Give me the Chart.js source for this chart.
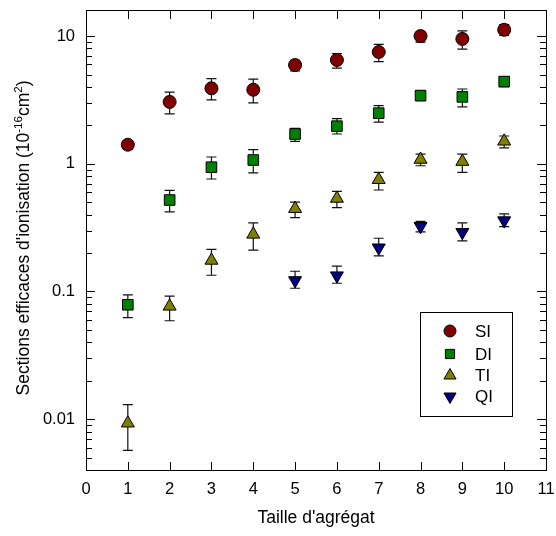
<!DOCTYPE html>
<html>
<head>
<meta charset="utf-8">
<script src="https://cdn.jsdelivr.net/npm/chart.js@4"></script>
<style>
  html, body { margin: 0; padding: 0; background: #fff; }
  #wrap { width: 556px; height: 536px; }
</style>
</head>
<body>
<div id="wrap"><canvas id="ionChart" width="556" height="536"></canvas></div>
<script>
// cluster sizes (x)
var sizes = [1, 2, 3, 4, 5, 6, 7, 8, 9, 10];
var xTickLabels = [0, 1, 2, 3, 4, 5, 6, 7, 8, 9, 10, 11];
var yTickLabels = [0.01, 0.1, 1, 10];

// single ionisation
var siVal = [1.41, 3.05, 3.9, 3.8, 5.93, 6.5, 7.5, 10.0, 9.5, 11.2];
var siHi  = [1.52, 3.64, 4.64, 4.6, 6.45, 7.3, 8.6, 10.8, 11.0, 12.3];
var siLo  = [1.30, 2.46, 3.16, 3.0, 5.33, 5.6, 6.3, 8.95, 7.9, 10.1];
// double ionisation
var diVal = [0.0787, 0.52, 0.94, 1.07, 1.71, 1.97, 2.49, 3.42, 3.34, 4.4];
var diHi  = [0.094, 0.62, 1.13, 1.29, 1.89, 2.26, 2.85, 3.7, 3.85, 4.76];
var diLo  = [0.0625, 0.42, 0.76, 0.85, 1.5, 1.71, 2.12, 3.12, 2.79, 4.02];
// triple ionisation
var tiVal = [0.0093, 0.0765, 0.175, 0.28, 0.445, 0.535, 0.75, 1.08, 1.04, 1.5];
var tiHi  = [0.013, 0.092, 0.214, 0.344, 0.5, 0.607, 0.855, 1.19, 1.19, 1.65];
var tiLo  = [0.0057, 0.059, 0.134, 0.211, 0.379, 0.453, 0.623, 0.965, 0.855, 1.33];
// quadruple ionisation (measured from size 5)
var qiVal = [null, null, null, null, 0.122, 0.133, 0.22, 0.324, 0.291, 0.359];
var qiHi  = [null, null, null, null, 0.144, 0.158, 0.261, 0.354, 0.344, 0.405];
var qiLo  = [null, null, null, null, 0.106, 0.116, 0.19, 0.293, 0.249, 0.322];

var FONT = "Liberation Sans, Arial, Helvetica, sans-serif";

function points(vals) {
	var out = [];
	for (var i = 0; i < sizes.length; i++) {
		if (vals[i] != null) out.push({x: sizes[i], y: vals[i]});
	}
	return out;
}
function compact(arr) { return arr.filter(function(v){ return v != null; }); }

function series(label, vals, hi, lo, color, style, radius, rot) {
	return {
		label: label,
		data: points(vals),
		errHi: compact(hi),
		errLo: compact(lo),
		showLine: false,
		backgroundColor: color,
		borderColor: '#000',
		borderWidth: 1,
		pointStyle: style,
		pointRadius: radius,
		pointHoverRadius: radius,
		pointRotation: rot || 0
	};
}

var datasets = [
	series('SI', siVal, siHi, siLo, '#800000', 'circle', 6.5),
	series('DI', diVal, diHi, diLo, '#008000', 'rect', 7.5),
	series('TI', tiVal, tiHi, tiLo, '#808000', 'triangle', 7.5),
	series('QI', qiVal, qiHi, qiLo, '#000080', 'triangle', 7.5, 180)
];

// error bars, drawn under the markers
var errorBars = {
	id: 'errorBars',
	beforeDatasetsDraw: function(chart) {
		var ctx = chart.ctx, xs = chart.scales.x, ys = chart.scales.y;
		ctx.save();
		ctx.strokeStyle = '#111';
		ctx.lineWidth = 1.2;
		chart.data.datasets.forEach(function(ds) {
			ds.data.forEach(function(p, i) {
				var px = xs.getPixelForValue(p.x);
				var top = ys.getPixelForValue(ds.errHi[i]);
				var bot = ys.getPixelForValue(ds.errLo[i]);
				ctx.beginPath();
				ctx.moveTo(px, top); ctx.lineTo(px, bot);
				ctx.moveTo(px - 5, top); ctx.lineTo(px + 5, top);
				ctx.moveTo(px - 5, bot); ctx.lineTo(px + 5, bot);
				ctx.stroke();
			});
		});
		ctx.restore();
	}
};

// frame, inward ticks, y title and boxed legend
var decorations = {
	id: 'decorations',
	afterDraw: function(chart) {
		var ctx = chart.ctx, a = chart.chartArea;
		var xs = chart.scales.x, ys = chart.scales.y;
		ctx.save();
		ctx.strokeStyle = '#000';
		ctx.lineWidth = 1;
		ctx.strokeRect(Math.round(a.left) + 0.5, Math.round(a.top) + 0.5,
			Math.round(a.right - a.left), Math.round(a.bottom - a.top));

		ctx.beginPath();
		// x ticks top and bottom
		for (var i = 1; i < xTickLabels.length - 1; i++) {
			var px = Math.round(xs.getPixelForValue(xTickLabels[i])) + 0.5;
			ctx.moveTo(px, a.bottom); ctx.lineTo(px, a.bottom - 8);
			ctx.moveTo(px, a.top); ctx.lineTo(px, a.top + 9);
		}
		// y ticks, major and minor, left and right
		for (var e = -3; e <= 1; e++) {
			for (var m = 1; m <= 9; m++) {
				var v = m * Math.pow(10, e);
				if (v < ys.min || v > ys.max) continue;
				var py = Math.round(ys.getPixelForValue(v)) + 0.5;
				var len = m === 1 ? 9 : 6;
				ctx.moveTo(a.left, py); ctx.lineTo(a.left + len, py);
				ctx.moveTo(a.right, py); ctx.lineTo(a.right - len, py);
			}
		}
		ctx.stroke();

		// y axis title with superscripts
		ctx.fillStyle = '#000';
		ctx.textBaseline = 'alphabetic';
		var f = '17.5px ' + FONT, fs = '11.5px ' + FONT;
		var parts = [
			['Sections efficaces d\'ionisation (10', f, 0],
			['-16', fs, -7],
			['cm', f, 0],
			['2', fs, -7],
			[')', f, 0]
		];
		var total = 0;
		parts.forEach(function(p) { ctx.font = p[1]; total += ctx.measureText(p[0]).width; });
		ctx.translate(29, (a.top + a.bottom) / 2 - 2);
		ctx.rotate(-Math.PI / 2);
		var cx = -total / 2;
		parts.forEach(function(p) {
			ctx.font = p[1];
			ctx.fillText(p[0], cx, p[2]);
			cx += ctx.measureText(p[0]).width;
		});
		ctx.setTransform(1, 0, 0, 1, 0, 0);

		// legend
		var bx = 420, by = 312, bw = 92, bh = 104;
		ctx.strokeRect(bx + 0.5, by + 0.5, bw, bh);
		var rows = [331, 354, 375.5, 396.5];
		var sizesL = [6, 6.5, 7, 7];
		ctx.font = '17px ' + FONT;
		ctx.textBaseline = 'middle';
		ctx.textAlign = 'left';
		chart.data.datasets.forEach(function(ds, i) {
			ctx.fillStyle = ds.backgroundColor;
			ctx.strokeStyle = '#000';
			ctx.lineWidth = 1;
			Chart.helpers.drawPoint(ctx, {
				pointStyle: ds.pointStyle, radius: sizesL[i],
				rotation: ds.pointRotation, borderWidth: 1
			}, 450, rows[i]);
			ctx.fillStyle = '#000';
			ctx.fillText(ds.label, 475, rows[i] + 1);
		});
		ctx.restore();
	}
};

var canvas = document.getElementById('ionChart');
var plot = new Chart(canvas.getContext('2d'), {
	type: 'scatter',
	data: { datasets: datasets },
	options: {
		responsive: false,
		animation: false,
		layout: { padding: { top: 10, right: 10, left: 0, bottom: 0 } },
		plugins: {
			legend: { display: false },
			tooltip: { enabled: false }
		},
		scales: {
			x: {
				type: 'linear',
				min: 0, max: 11,
				grid: { display: false, drawTicks: false },
				border: { display: false },
				ticks: {
					stepSize: 1,
					padding: 10,
					color: '#000',
					font: { family: FONT, size: 16.5 },
					maxRotation: 0
				},
				title: {
					display: true,
					text: 'Taille d\'agrégat',
					color: '#000',
					font: { family: FONT, size: 17.5 },
					padding: { top: 0, bottom: 7 }
				},
				afterFit: function(s) {
					s.height = 66;
					s.paddingLeft = 0;
					s.paddingRight = 0;
				}
			},
			y: {
				type: 'logarithmic',
				min: 0.004, max: 16,
				grid: { display: false, drawTicks: false },
				border: { display: false },
				afterBuildTicks: function(s) {
					s.ticks = yTickLabels.map(function(v) { return {value: v}; });
				},
				ticks: {
					padding: 11,
					color: '#000',
					font: { family: FONT, size: 16.5 },
					callback: function(v) { return String(v); }
				},
				afterFit: function(s) {
					s.width = 86;
					s.paddingTop = 0;
					s.paddingBottom = 0;
				}
			}
		}
	},
	plugins: [errorBars, decorations]
});
</script>
</body>
</html>
